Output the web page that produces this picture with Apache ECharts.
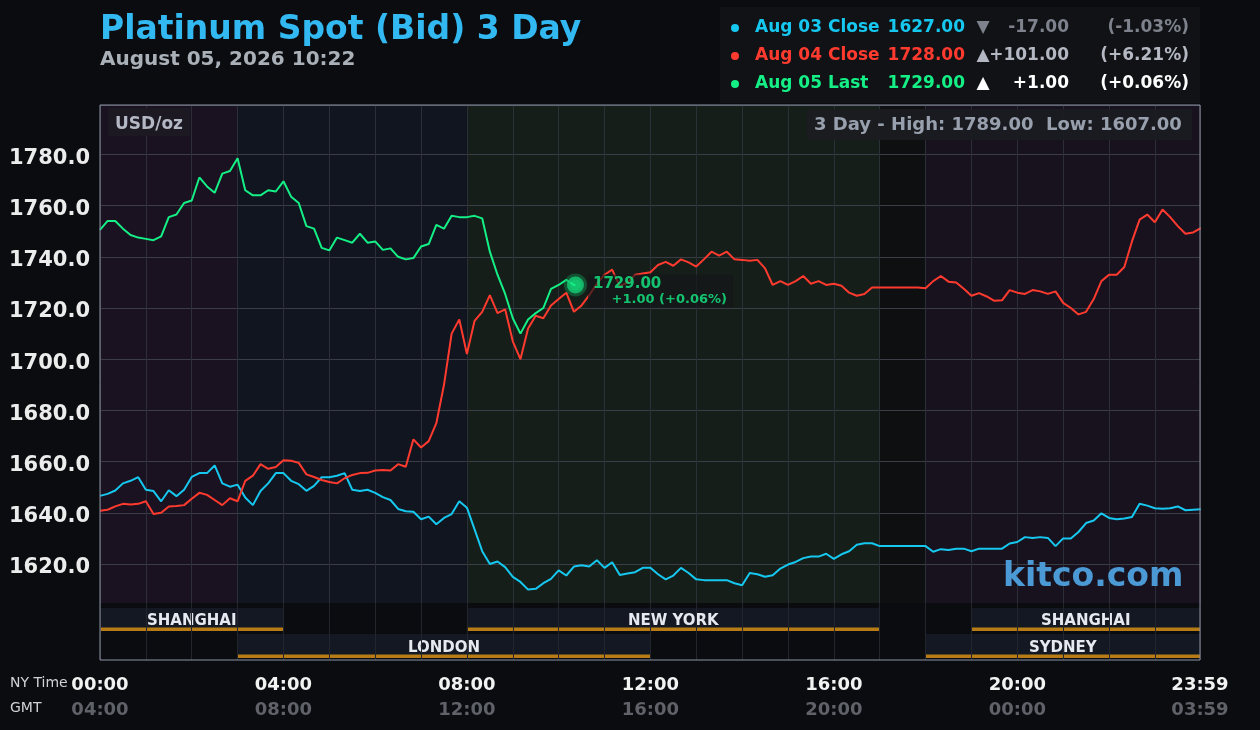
<!DOCTYPE html>
<html lang="en">

<head>
    <meta charset="UTF-8">
    <title>Platinum Spot (Bid) 3 Day</title>
    <style>
        html, body { margin: 0; padding: 0; background: #0b0c10; }
        #chart { width: 1260px; height: 730px; }
    </style>
</head>

<body>
    <div id="chart"></div>
    <script src="https://cdn.jsdelivr.net/npm/echarts@6/dist/echarts.min.js"></script>
    <script>
        // bid readings every 10 minutes (NY time), first value at 00:00
        var stepHours = 1 / 6;
        var aug03 = [
            1646.6, 1647.4, 1648.7, 1651.5, 1652.5, 1653.9,
            1649, 1648.5, 1644.5, 1648.8, 1646.5, 1649,
            1654, 1655.5, 1655.5, 1658.5, 1651.5, 1650.2,
            1651, 1646, 1643, 1648.5, 1651.5, 1655.5,
            1655.5, 1652.5, 1651.2, 1648.6, 1650.5, 1653.9,
            1653.9, 1654.5, 1655.5, 1649, 1648.5, 1649,
            1647.8, 1646.1, 1645, 1641.5, 1640.6, 1640.4,
            1637.5, 1638.5, 1635.5, 1638, 1639.5, 1644.5,
            1642, 1633.5, 1625, 1620, 1621, 1618.8,
            1615, 1613, 1610, 1610.3, 1612.5, 1614.2,
            1617.5, 1615.5, 1619, 1619.5, 1619, 1621.5,
            1618.5, 1620.7, 1615.7, 1616.3, 1616.8, 1618.5,
            1618.5, 1616, 1614, 1615.5, 1618.5, 1616.5,
            1614, 1613.7, 1613.7, 1613.7, 1613.7, 1612.5,
            1611.7, 1616.5, 1616, 1615, 1615.6, 1618.2,
            1619.8, 1620.8, 1622.3, 1622.9, 1622.9, 1624,
            1622, 1623.8, 1625, 1627.5, 1628.1, 1628.1,
            1627, 1627, 1627, 1627, 1627, 1627,
            1627, 1624.8, 1625.8, 1625.5, 1626, 1626,
            1625, 1626, 1626, 1626, 1626, 1628,
            1628.6, 1630.5, 1630.2, 1630.5, 1630.2, 1627,
            1630, 1630, 1632.5, 1636, 1637, 1639.8,
            1638, 1637.5, 1637.8, 1638.4, 1643.5, 1642.8,
            1641.8, 1641.6, 1641.8, 1642.5, 1641, 1641.2,
            1641.4
        ];
        var aug04 = [
            1640.8, 1641.2, 1642.5, 1643.5, 1643.2, 1643.5,
            1644.5, 1639.5, 1640, 1642.5, 1642.7, 1643,
            1645.5, 1647.8, 1647, 1645, 1643, 1645.7,
            1644.5, 1652.5, 1654.5, 1659, 1657.2, 1657.9,
            1660.5, 1660.3, 1659.5, 1655, 1654, 1652.8,
            1652, 1651.5, 1653.5, 1654.8, 1655.5, 1655.6,
            1656.5, 1656.7, 1656.5, 1659, 1658, 1668.7,
            1665.5, 1668, 1675, 1690, 1710, 1715.5,
            1702, 1715, 1718.5, 1725, 1718, 1719.5,
            1707, 1700, 1712, 1717, 1716, 1721,
            1723.5, 1726, 1718.5, 1721, 1725, 1729.5,
            1733, 1735, 1728.5, 1730, 1733, 1733.5,
            1734, 1736.8, 1738, 1736.5, 1739, 1737.8,
            1736.2, 1739, 1742, 1740.5, 1742, 1739,
            1738.8, 1738.5, 1738.8, 1735.5, 1729, 1730.5,
            1729, 1730.5, 1732.5, 1729.5, 1730.5, 1729,
            1729.5, 1728.7, 1726, 1724.8, 1725.5, 1728,
            1728, 1728, 1728, 1728, 1728, 1728,
            1727.7, 1730.5, 1732.5, 1730.3, 1730, 1727.5,
            1724.8, 1725.8, 1724.5, 1722.8, 1723, 1727,
            1726, 1725.5, 1727, 1726.5, 1725.5, 1726.5,
            1722, 1720, 1717.5, 1718.5, 1723.5, 1730.5,
            1733, 1733, 1736, 1746, 1754.5, 1756.5,
            1753.5, 1758.5, 1755.5, 1752, 1749, 1749.5,
            1751.2
        ];
        var aug05 = [
            1750.5, 1754, 1754, 1751, 1748.5, 1747.5,
            1747, 1746.5, 1748, 1755.5, 1756.5, 1761,
            1762, 1771, 1767.5, 1765, 1772.5, 1773.5,
            1778.5, 1766, 1764, 1764, 1766, 1765.5,
            1769.5, 1763.5, 1761, 1752, 1751, 1743.5,
            1742.5, 1747.5, 1746.5, 1745.5, 1749, 1745.5,
            1746, 1742.7, 1743.3, 1740, 1739, 1739.5,
            1744, 1745, 1752.5, 1751, 1756, 1755.5,
            1755.5, 1756, 1755, 1742, 1733, 1725.5,
            1716, 1710, 1715.5, 1718, 1720, 1727.5,
            1729, 1731, 1729
        ];
        var lastTime = 10 + 22 / 60;
        var lastPrice = 1729;

        var legendLabels = ['Aug 03 Close', 'Aug 04 Close', 'Aug 05 Last'];
        var legendPrices = [1627, 1728, 1729];
        var prevClose = 1644;
        var threeDayHigh = 1789;
        var threeDayLow = 1607;

        var seriesColors = ['#16c8f0', '#ff3a2f', '#14ef86'];
        var toneColors = ['#7e828c', '#b4b8c2', '#ffffff'];

        var bandStart = [0, 3, 8, 17, 18];
        var bandEnd = [3, 8, 17, 18, 24];
        var bandColors = ['#1a1220', '#11151f', '#151e18', '#0e0f11', '#18121e'];

        var sessionNames = ['SHANGHAI', 'NEW YORK', 'SHANGHAI', 'LONDON', 'SYDNEY'];
        var sessionStart = [0, 8, 19, 3, 18];
        var sessionEnd = [4, 17, 24, 12, 24];
        var sessionRow = [0, 0, 0, 1, 1];

        var xMax = 23 + 59 / 60;
        var yMin = 1600, yMax = 1799.3, bandFloor = 1604.8;
        var font = '"DejaVu Sans", sans-serif';

        function toPairs(values) {
            return values.map(function (v, i) { return [i * stepHours, v]; });
        }

        function pad2(n) { return (n < 10 ? '0' : '') + n; }

        function timeLabel(v) {
            var mins = Math.round(v * 60);
            if (mins % 240 !== 0 && mins !== Math.round(xMax * 60)) return '';
            var gmt = (mins + 240) % 1440;
            return '{a|' + pad2(Math.floor(mins / 60)) + ':' + pad2(mins % 60) + '}\n' +
                '{b|' + pad2(Math.floor(gmt / 60)) + ':' + pad2(gmt % 60) + '}';
        }

        function changeText(diff, prev) {
            var sign = diff >= 0 ? '+' : '-';
            return {
                diff: sign + Math.abs(diff).toFixed(2),
                pct: '(' + sign + (Math.abs(diff) / prev * 100).toFixed(2) + '%)'
            };
        }

        function renderBand(params, api) {
            var cs = params.coordSys;
            var a = api.coord([api.value(0), yMax]);
            var b = api.coord([api.value(1), bandFloor]);
            var right = Math.min(b[0], cs.x + cs.width);
            return {
                type: 'rect',
                shape: { x: a[0], y: a[1], width: right - a[0], height: b[1] - a[1] },
                style: { fill: bandColors[params.dataIndex] }
            };
        }

        function renderSession(params, api) {
            var cs = params.coordSys;
            var x0 = api.coord([api.value(0), 0])[0];
            var x1 = Math.min(api.coord([api.value(1), 0])[0], cs.x + cs.width);
            var row = api.value(2);
            var top = cs.y + (row === 0 ? 5 : 31);
            var h = row === 0 ? 23 : 24;
            return {
                type: 'group',
                children: [
                    { type: 'rect', shape: { x: x0, y: top, width: x1 - x0, height: h }, style: { fill: '#131822' } },
                    { type: 'rect', shape: { x: x0, y: top + h - 3.5, width: x1 - x0, height: 3.5 }, style: { fill: '#b87c16' } },
                    {
                        type: 'text',
                        style: {
                            text: sessionNames[params.dataIndex], x: (x0 + x1) / 2, y: top + h - 10,
                            align: 'center', verticalAlign: 'middle', fill: '#e6eaf0', font: 'bold 15px ' + font
                        }
                    }
                ]
            };
        }

        // header, legend box and overlay captions
        var graphics = [
            { type: 'text', z: 10, style: { text: 'Platinum Spot (Bid) 3 Day', x: 100, y: 30, verticalAlign: 'middle', fill: '#33b9f2', font: 'bold 33px ' + font } },
            { type: 'text', z: 10, style: { text: 'August 05, 2026 10:22', x: 100, y: 60, verticalAlign: 'middle', fill: '#aab0b8', font: 'bold 20px ' + font } },
            { type: 'rect', z: 10, shape: { x: 720, y: 7, width: 480, height: 96 }, style: { fill: '#101216' } },
            { type: 'rect', z: 10, shape: { x: 108, y: 108, width: 82, height: 28 }, style: { fill: '#1c1922' } },
            { type: 'text', z: 11, style: { text: 'USD/oz', x: 149, y: 125, align: 'center', verticalAlign: 'middle', fill: '#b4b8c4', font: 'bold 17px ' + font } },
            { type: 'rect', z: 10, shape: { x: 807, y: 109, width: 385, height: 31 }, style: { fill: 'rgba(27,28,33,0.92)' } },
            {
                type: 'text', z: 11, style: {
                    text: '3 Day - High: ' + threeDayHigh.toFixed(2) + '  Low: ' + threeDayLow.toFixed(2),
                    x: 814, y: 125, verticalAlign: 'middle', fill: '#98a0ae', font: 'bold 18px ' + font
                }
            },
            { type: 'text', z: 11, style: { text: 'kitco.com', x: 1003, y: 577, verticalAlign: 'middle', fill: '#4b9ad6', font: 'bold 33px ' + font } },
            { type: 'text', z: 10, style: { text: 'NY Time', x: 10, y: 683, verticalAlign: 'middle', fill: '#d0d2d6', font: '14px ' + font } },
            { type: 'text', z: 10, style: { text: 'GMT', x: 10, y: 708, verticalAlign: 'middle', fill: '#d0d2d6', font: '14px ' + font } }
        ];

        legendLabels.forEach(function (name, i) {
            var y = 28 + i * 28;
            var prev = i === 0 ? prevClose : legendPrices[i - 1];
            var diff = legendPrices[i] - prev;
            var ch = changeText(diff, prev);
            var f = 'bold 17px ' + font;
            graphics.push(
                { type: 'circle', z: 11, shape: { cx: 735, cy: y, r: 4 }, style: { fill: seriesColors[i] } },
                { type: 'text', z: 11, style: { text: name, x: 755, y: y, verticalAlign: 'middle', fill: seriesColors[i], font: f } },
                { type: 'text', z: 11, style: { text: legendPrices[i].toFixed(2), x: 965, y: y, align: 'right', verticalAlign: 'middle', fill: seriesColors[i], font: f } },
                { type: 'text', z: 11, style: { text: diff >= 0 ? '\u25B2' : '\u25BC', x: 983, y: y, align: 'center', verticalAlign: 'middle', fill: toneColors[i], font: f } },
                { type: 'text', z: 11, style: { text: ch.diff, x: 1069, y: y, align: 'right', verticalAlign: 'middle', fill: toneColors[i], font: f } },
                { type: 'text', z: 11, style: { text: ch.pct, x: 1189, y: y, align: 'right', verticalAlign: 'middle', fill: toneColors[i], font: f } }
            );
        });

        var lastChange = changeText(lastPrice - legendPrices[1], legendPrices[1]);

        var option = {
            backgroundColor: '#0b0c10',
            animation: false,
            grid: [
                { left: 100, right: 60, top: 105, bottom: 114.8 },
                { left: 100, right: 60, top: 603, bottom: 70, show: true, backgroundColor: '#0b0c10', borderWidth: 0, z: 3 },
                { left: 100, right: 60, top: 105, bottom: 70, show: true, backgroundColor: 'transparent', borderColor: '#8d93a5', borderWidth: 1, z: 8 }
            ],
            xAxis: [
                {
                    gridIndex: 0, type: 'value', min: 0, max: xMax, interval: 1, z: 2,
                    axisLine: { show: false }, axisTick: { show: false }, axisLabel: { show: false },
                    splitLine: { show: true, lineStyle: { color: '#2c2f37', width: 1 } }
                },
                {
                    gridIndex: 1, type: 'value', min: 0, max: xMax, interval: 1, z: 5,
                    axisLine: { show: false }, axisTick: { show: false },
                    splitLine: { show: true, lineStyle: { color: '#22252b', width: 1 } },
                    axisLabel: {
                        show: true, margin: 13, showMinLabel: true, showMaxLabel: true,
                        formatter: timeLabel,
                        rich: {
                            a: { fontSize: 18, fontWeight: 'bold', fontFamily: font, color: '#f2f2f2', lineHeight: 25 },
                            b: { fontSize: 18, fontWeight: 'bold', fontFamily: font, color: '#5f6268', lineHeight: 25 }
                        }
                    }
                },
                { gridIndex: 2, type: 'value', min: 0, max: 1, show: false }
            ],
            yAxis: [
                {
                    gridIndex: 0, type: 'value', min: yMin, max: yMax, interval: 20, z: 2,
                    axisLine: { show: false }, axisTick: { show: false },
                    splitLine: { show: true, lineStyle: { color: '#3a3d46', width: 1 } },
                    axisLabel: {
                        margin: 10,
                        formatter: function (v) { return (v >= 1620 && v <= 1780) ? '{v|' + v.toFixed(1) + '}' : ''; },
                        rich: {
                            v: { color: '#ececec', fontSize: 21, fontWeight: 'bold', fontFamily: font, padding: [8, 0, 0, 0] }
                        }
                    }
                },
                { gridIndex: 1, type: 'value', min: 0, max: 1, show: false },
                { gridIndex: 2, type: 'value', min: 0, max: 1, show: false }
            ],
            series: [
                {
                    type: 'custom', name: 'bands', xAxisIndex: 0, yAxisIndex: 0, z: 1, silent: true,
                    renderItem: renderBand, encode: { x: [0, 1], y: 2 },
                    data: bandStart.map(function (s, i) { return [s, bandEnd[i], yMin]; })
                },
                {
                    type: 'custom', name: 'sessions', xAxisIndex: 1, yAxisIndex: 1, z: 4, silent: true,
                    renderItem: renderSession, encode: { x: [0, 1], y: 2 },
                    data: sessionStart.map(function (s, i) { return [s, sessionEnd[i], sessionRow[i]]; })
                },
                {
                    type: 'line', name: legendLabels[0], xAxisIndex: 0, yAxisIndex: 0, z: 6,
                    showSymbol: false, data: toPairs(aug03),
                    lineStyle: { color: seriesColors[0], width: 2 }
                },
                {
                    type: 'line', name: legendLabels[1], xAxisIndex: 0, yAxisIndex: 0, z: 6,
                    showSymbol: false, data: toPairs(aug04),
                    lineStyle: { color: seriesColors[1], width: 2 }
                },
                {
                    type: 'line', name: legendLabels[2], xAxisIndex: 0, yAxisIndex: 0, z: 6,
                    showSymbol: false, data: toPairs(aug05).concat([[lastTime, lastPrice]]),
                    lineStyle: { color: seriesColors[2], width: 2 }
                },
                {
                    type: 'scatter', name: 'last', xAxisIndex: 0, yAxisIndex: 0, z: 9,
                    data: [[lastTime, lastPrice]],
                    symbolSize: 17,
                    itemStyle: { color: seriesColors[2], borderColor: 'rgba(20,160,95,0.5)', borderWidth: 6 },
                    label: {
                        show: true, position: 'right', distance: 1, offset: [0, 6],
                        backgroundColor: 'rgba(20,22,24,0.82)', padding: [1, 6, 1, 5], width: 134,
                        formatter: '{a|' + lastPrice.toFixed(2) + '}\n{b|' + lastChange.diff + ' ' + lastChange.pct + '}',
                        rich: {
                            a: { fontSize: 15, fontWeight: 'bold', fontFamily: font, color: seriesColors[2], lineHeight: 17 },
                            b: { fontSize: 13, fontWeight: 'bold', fontFamily: font, color: seriesColors[2], lineHeight: 14, align: 'right' }
                        }
                    }
                }
            ],
            graphic: graphics
        };

        var chart = echarts.init(document.getElementById('chart'));
        chart.setOption(option);
    </script>
</body>

</html>
